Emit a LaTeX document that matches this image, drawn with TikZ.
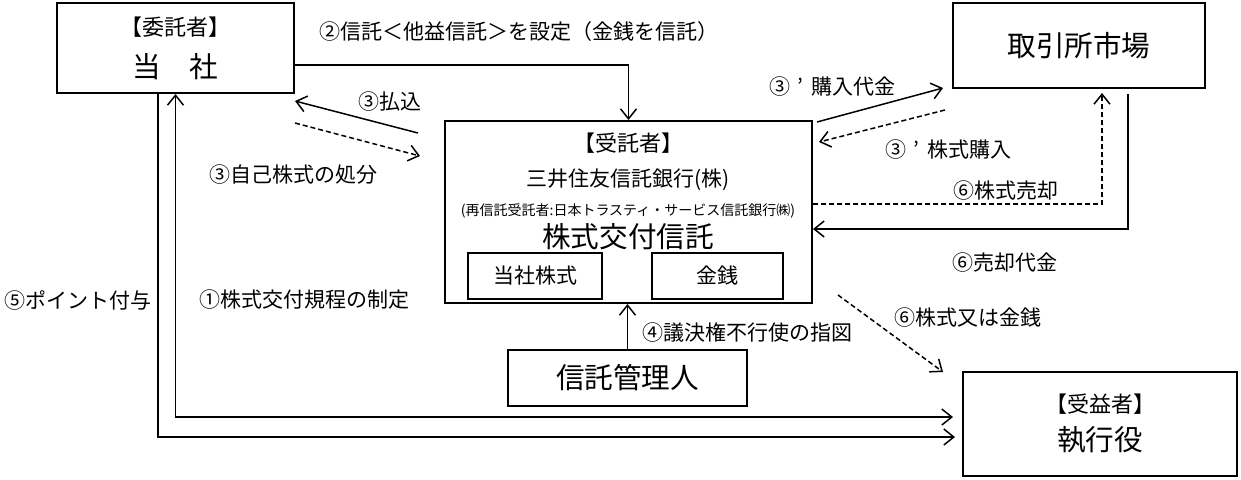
\documentclass[tikz,border=0pt]{standalone}
\usepackage{fontspec}
\setmainfont{Noto Sans CJK JP}
\usetikzlibrary{arrows.meta}

\newcommand{\headfont}{\fontsize{11}{13}\selectfont}
\newcommand{\boxfont}{\fontsize{14.3}{18.7}\selectfont}

\tikzset{
  >={Straight Barb[length=5pt,width=8pt]},
  box/.style={draw, line width=1pt, rectangle, inner sep=0pt, align=center},
  lab/.style={font=\fontsize{10.5}{12}\selectfont, inner sep=0pt},
  arr/.style={->, line width=0.75pt},
  darr/.style={arr, dash pattern=on 2.5pt off 1.5pt},
}

\begin{document}
\begin{tikzpicture}[x=0.5pt, y=-0.5pt]
\useasboundingbox (0,0) rectangle (1241,479);

% boxes
\node[box, minimum width=118.5pt, minimum height=45pt] (itaku) at (175.5,48)
  {\headfont 【委託者】\\[7pt] \boxfont 当　社};
\node[box, minimum width=126pt, minimum height=42.5pt, font=\boxfont] (market) at (1079,45.5) {取引所市場};
\node[box, minimum width=183.5pt, minimum height=91pt] (jutaku) at (628.5,212) {};
\node[box, minimum width=67pt, minimum height=23pt, font=\fontsize{10.5}{12}\selectfont] (kabu) at (535,276) {当社株式};
\node[box, minimum width=65.5pt, minimum height=23pt, font=\fontsize{10.5}{12}\selectfont] (kinsen) at (717.5,276) {金銭};
\node[box, minimum width=119.5pt, minimum height=28pt, font=\boxfont] (kanri) at (627.5,378) {信託管理人};
\node[box, minimum width=137pt, minimum height=52pt] (jueki) at (1100,424)
  {\headfont 【受益者】\\[5pt] \boxfont 執行役};

% texts in the trust box
\node[inner sep=0pt, font=\headfont] (jhead) at (628,143) {【受託者】};
\node[lab] (jbank) at (628,180) {三井住友信託銀行(株)};
\node[inner sep=0pt, font=\fontsize{7}{8}\selectfont] (jsub) at (628,211) {(再信託受託者:日本トラスティ・サービス信託銀行㈱)};
\node[inner sep=0pt, font=\boxfont] (jname) at (628,237) {株式交付信託};

% free ends
\coordinate (payS) at (418,133);
\coordinate (payE) at (295,101);
\coordinate (dspS) at (295,123);
\coordinate (dspE) at (420,156);
\coordinate (buyS) at (817,122);
\coordinate (buyE) at (943,88);
\coordinate (getS) at (945,110);
\coordinate (getE) at (819,142);
\coordinate (sellE) at (1102,93);
\coordinate (procS) at (1128,94);
\coordinate (delS) at (838,295);
\coordinate (delE) at (943,372);
\coordinate (ptS) at (158,93);
\coordinate (ptE) at (955,437);
\coordinate (ruleE) at (953,417);

% connectors
\draw[arr] (itaku.east) ++(0,17) -| (jutaku.north);
\draw[arr] (payS) -- (payE);
\draw[darr] (dspS) -- (dspE);
\draw[arr] (buyS) -- (buyE);
\draw[darr] (getS) -- (getE);
\draw[darr] (jutaku.east) ++(0,-8) -| (sellE);
\draw[arr] (procS) |- (jutaku.east |- 0,229);
\draw[darr] (delS) -- (delE);
\draw[arr] (kanri.north) -- (kanri.north |- jutaku.south);
\draw[arr, <->] (itaku.south) |- (ruleE);
\draw[arr] (ptS) |- (ptE);

% labels
\node[lab] (l2) at (519,32) {②信託＜他益信託＞を設定（金銭を信託）};
\node[lab] (l3a) at (390,102) {③払込};
\node[lab] (l3b) at (293,175) {③自己株式の処分};
\node[lab] (l3c) at (832,87) {③\makebox[1em][c]{’}購入代金};
\node[lab] (l3d) at (948,150) {③\makebox[1em][c]{’}株式購入};
\node[lab] (l6a) at (1006,191) {⑥株式売却};
\node[lab] (l6b) at (1005,263) {⑥売却代金};
\node[lab] (l6c) at (968,318) {⑥株式又は金銭};
\node[lab] (l4) at (747,333) {④議決権不行使の指図};
\node[lab] (l1) at (304,300) {①株式交付規程の制定};
\node[lab] (l5) at (78,300) {⑤ポイント付与};

\end{tikzpicture}
\end{document}
